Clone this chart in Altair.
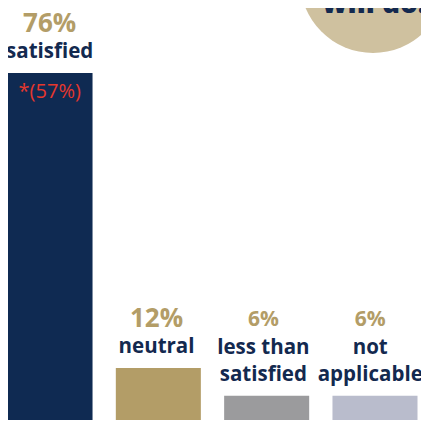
import altair as alt
import pandas as pd

# ---- data ----
categories = ["satisfied", "neutral", "less than\nsatisfied", "not\napplicable"]
values = [76, 12, 6, 6]
pct_labels = ["76%", "12%", "6%", "6%"]
notes = ["*(57%)", "", "", ""]
bar_colors = ["#0f2a52", "#b39d67", "#9b9b9d", "#b9bccc"]
circle_text = ["will do:"]

NAVY = "#13294f"
TAN = "#b39d67"
RED = "#e5372d"
CIRCLE = "#cfc19f"
FONT = "Open Sans"

df = pd.DataFrame({
    "cat": categories,
    "value": values,
    "pct": pct_labels,
    "nlines": [c.count("\n") + 1 for c in categories],
    "note": notes,
    "color": bar_colors,
})

# one row per label line, level 0 = line nearest the bar
rows = []
for c, v in zip(categories, values):
    parts = c.split("\n")
    for lvl, t in enumerate(reversed(parts)):
        rows.append({"cat": c, "value": v, "line": t, "level": lvl})
lines_df = pd.DataFrame(rows)

x_bar = alt.X(
    "cat:N",
    sort=categories,
    axis=None,
    scale=alt.Scale(type="band", domain=categories, range=[-0.5, 409.5],
                    paddingInner=0.215, paddingOuter=0),
)
# labels sit on a slightly tighter grid than the bars
x_lab = alt.X(
    "cat:N",
    sort=categories,
    axis=None,
    scale=alt.Scale(type="point", domain=categories, range=[41.7, 362.2], padding=0),
)
y_enc = alt.Y(
    "value:Q",
    axis=None,
    scale=alt.Scale(domain=[0, 76], range=[415.3, 65], nice=False, zero=True),
)

base = alt.Chart(df)

bars = base.mark_bar(cornerRadius=0).encode(
    x=x_bar,
    y=y_enc,
    color=alt.Color("color:N", scale=None),
)

line_base = alt.Chart(lines_df)
cat_kw = dict(font=FONT, fontWeight="bold", fontSize=20.5, color=NAVY,
              baseline="alphabetic", align="center")
cat_l0 = line_base.mark_text(dy=-15, **cat_kw).encode(x=x_lab, y=y_enc, text="line:N").transform_filter(
    alt.datum.level == 0)
cat_l1 = line_base.mark_text(dy=-42, **cat_kw).encode(x=x_lab, y=y_enc, text="line:N").transform_filter(
    alt.datum.level == 1)

pct_kw = dict(font=FONT, fontWeight="bold", color=TAN, baseline="alphabetic", align="center")
pct_size = alt.condition(alt.datum.value >= 10, alt.value(26), alt.value(21))
pct_1 = base.mark_text(dy=-41, **pct_kw).encode(
    x=x_lab, y=y_enc, text="pct:N", size=pct_size).transform_filter(alt.datum.nlines == 1)
pct_2 = base.mark_text(dy=-70, **pct_kw).encode(
    x=x_lab, y=y_enc, text="pct:N", size=pct_size).transform_filter(alt.datum.nlines == 2)

note_text = base.mark_text(
    font=FONT, fontWeight="normal", fontSize=20, color=RED,
    baseline="alphabetic", align="center", dy=25,
).encode(x=x_lab, y=y_enc, text="note:N")

deco = alt.Chart(pd.DataFrame({"t": circle_text}))
# Vega circle symbol: diameter = sqrt(size)  -> radius 73 px
circle = deco.mark_circle(size=146 * 146, color=CIRCLE, opacity=1).encode(
    x=alt.value(365), y=alt.value(-28)
)
circle_label = deco.mark_text(
    font=FONT, fontWeight=800, fontSize=28, color=NAVY,
    baseline="alphabetic", align="center",
).encode(x=alt.value(366), y=alt.value(5), text="t:N")

chart = alt.layer(circle, circle_label, bars, cat_l0, cat_l1, pct_1, pct_2, note_text).resolve_scale(
    x="independent"
).properties(
    width=413, height=412,
    autosize=alt.AutoSizeParams(type="none"),
    padding=0,
).configure_view(stroke=None)

chart.save("out.html", embed_options={"renderer": "svg", "actions": False})
